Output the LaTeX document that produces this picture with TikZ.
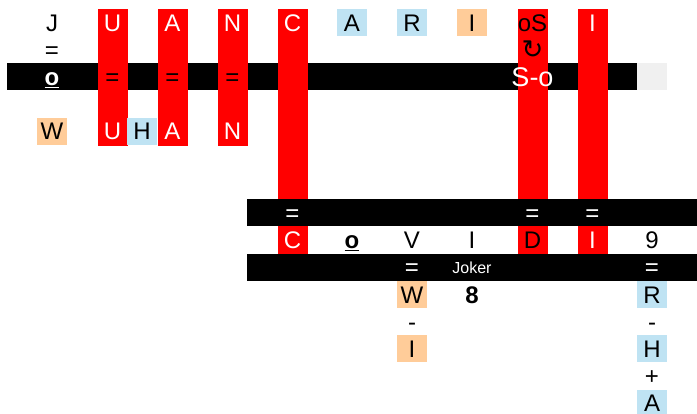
\documentclass[tikz,border=0pt]{standalone}
\usepackage{fontspec}
\setmainfont{Liberation Sans}
\newfontfamily\symfont{DejaVu Sans}
\definecolor{cellred}{RGB}{255,0,0}
\definecolor{cellblue}{RGB}{191,227,243}
\definecolor{cellorange}{RGB}{255,204,153}
\definecolor{cellgrey}{RGB}{240,240,240}
\begin{document}
\begin{tikzpicture}[x=1pt,y=-1pt,
  cellbox/.style={minimum width=30pt,minimum height=27.2pt,inner sep=0pt},
  cell/.style={cellbox,text height=17.2pt,text depth=0pt,font=\fontsize{24}{24}\selectfont},
  wtxt/.style={cell,text=white},
  btxt/.style={cell,text=black},
  bluecell/.style={cell,fill=cellblue},
  orangecell/.style={cell,fill=cellorange},
  greycell/.style={cell,fill=cellgrey},
  bar/.style={fill=black},
  redcol/.style={fill=cellred},
]
\useasboundingbox (0,0) rectangle (697,414);
\fill[white] (0,0) rectangle (697,414);
% black bars
\fill[bar] (7,63.3) rectangle (637,90.5);
\node[greycell] (g1) at (652,76.9) {};
\fill[bar] (247,199.3) rectangle (697,226.5);
\fill[bar] (247,253.7) rectangle (697,280.9);
% red columns
\fill[redcol] (97.5,8.9) rectangle (127.5,145.7);
\fill[redcol] (157.5,8.9) rectangle (187.5,145.7);
\fill[redcol] (217.5,8.9) rectangle (247.5,145.7);
\fill[redcol] (277.5,8.9) rectangle (307.5,199.3);
\fill[redcol] (517.5,8.9) rectangle (547.5,199.3);
\fill[redcol] (577.5,8.9) rectangle (607.5,199.3);
\fill[redcol] (277.5,226.5) rectangle (307.5,253.7);
\fill[redcol] (517.5,226.5) rectangle (547.5,253.7);
\fill[redcol] (577.5,226.5) rectangle (607.5,253.7);
% row 1
\node[btxt] (r1a) at (52,22.5) {J};
\node[wtxt] (r1b) at (112.5,22.5) {U};
\node[wtxt] (r1c) at (172.5,22.5) {A};
\node[wtxt] (r1d) at (232.5,22.5) {N};
\node[wtxt] (r1e) at (292.5,22.5) {C};
\node[bluecell] (r1f) at (352,22.5) {A};
\node[bluecell] (r1g) at (412,22.5) {R};
\node[orangecell] (r1h) at (472,22.5) {I};
\node[btxt] (r1i) at (532.5,22.5) {oS};
\node[wtxt] (r1j) at (592.5,22.5) {I};
% row 2
\node[btxt] (r2a) at (52,49.7) {=};
\node[cellbox,font=\symfont\fontsize{26}{26}\selectfont] (r2b) at (532.5,49.7) {↻};
% row 3
\node[wtxt] (r3a) at (52,76.9) {\underline{\textbf{o}}};
\node[btxt] (r3b) at (112.5,76.9) {=};
\node[btxt] (r3c) at (172.5,76.9) {=};
\node[btxt] (r3d) at (232.5,76.9) {=};
\node[wtxt,font=\fontsize{27}{27}\selectfont,text height=19.3pt] (r3e) at (532.5,76.9) {S-o};
% row 5
\node[orangecell] (r5a) at (52,131.3) {W};
\node[wtxt] (r5b) at (112.5,131.3) {U};
\node[bluecell] (r5c) at (142,131.3) {H};
\node[wtxt] (r5d) at (172.5,131.3) {A};
\node[wtxt] (r5e) at (232.5,131.3) {N};
% row 8
\node[wtxt] (r8a) at (292.5,212.9) {=};
\node[wtxt] (r8b) at (532.5,212.9) {=};
\node[wtxt] (r8c) at (592.5,212.9) {=};
% row 9
\node[wtxt] (r9a) at (292.5,240.1) {C};
\node[btxt] (r9b) at (352,240.1) {\underline{\textbf{o}}};
\node[btxt] (r9c) at (412,240.1) {V};
\node[btxt] (r9d) at (472,240.1) {I};
\node[btxt] (r9e) at (532.5,240.1) {D};
\node[wtxt] (r9f) at (592.5,240.1) {I};
\node[btxt] (r9g) at (652,240.1) {9};
% row 10
\node[wtxt] (r10a) at (412,267.3) {=};
\node[wtxt,font=\fontsize{16}{16}\selectfont,text height=11.5pt] (r10b) at (472,267.3) {Joker};
\node[wtxt] (r10c) at (652,267.3) {=};
% row 11
\node[orangecell] (r11a) at (412,294.5) {W};
\node[btxt] (r11b) at (472,294.5) {\textbf{8}};
\node[bluecell] (r11c) at (652,294.5) {R};
% row 12
\node[btxt] (r12a) at (412,321.7) {-};
\node[btxt] (r12b) at (652,321.7) {-};
% row 13
\node[orangecell] (r13a) at (412,348.9) {I};
\node[bluecell] (r13b) at (652,348.9) {H};
% row 14
\node[btxt] (r14a) at (652,376.1) {+};
% row 15
\node[bluecell] (r15a) at (652,403.3) {A};
\end{tikzpicture}
\end{document}
